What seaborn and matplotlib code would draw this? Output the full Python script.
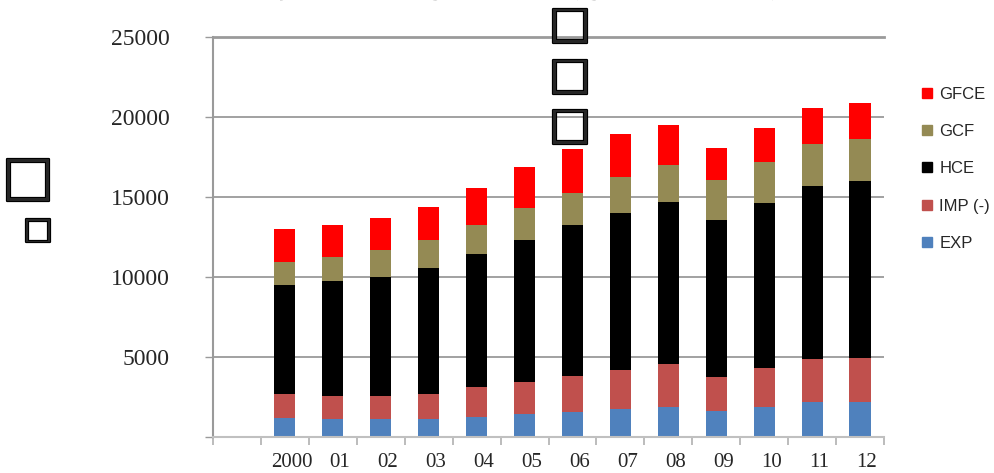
import numpy as np
import pandas as pd
import matplotlib
matplotlib.use('Agg')
from matplotlib import pyplot as plt
from matplotlib import transforms
from matplotlib import patheffects
from matplotlib.lines import Line2D
import seaborn as sns

# values (stack order: bottom -> top)
years = ['2000', '01', '02', '03', '04', '05', '06', '07', '08', '09', '10', '11', '12']
exp = [1170, 1080, 1080, 1080, 1230, 1420, 1540, 1710, 1860, 1610, 1860, 2170, 2170]
imp = [1500, 1440, 1440, 1590, 1850, 2000, 2250, 2460, 2680, 2120, 2430, 2690, 2750]
hce = [6810, 7210, 7460, 7850, 8340, 8870, 9440, 9790, 10130, 9810, 10320, 10810, 11060]
gcf = [1460, 1500, 1690, 1780, 1810, 2000, 1980, 2250, 2310, 2500, 2560, 2620, 2620]
gfce = [2040, 2000, 2000, 2060, 2310, 2570, 2770, 2730, 2520, 2000, 2120, 2250, 2260]

series = ['EXP', 'IMP (-)', 'HCE', 'GCF', 'GFCE']
colors = ['#4F81BD', '#C0504D', '#000000', '#948A54', '#FF0000']
ytick_vals = [0, 5000, 10000, 15000, 20000, 25000]
ytick_labels = ['', '5000', '10000', '15000', '20000', '25000']
title = 'مكونات الناتج المحلي الإجمالي حسب الإنفاق'
box = '\u25a1'

df = pd.DataFrame({'year': years, 'EXP': exp, 'IMP (-)': imp,
                   'HCE': hce, 'GCF': gcf, 'GFCE': gfce})
stack = df[series].cumsum(axis=1)

sns.set_style('white')
plt.rcParams['font.family'] = ['Liberation Serif', 'DejaVu Sans']

fig = plt.figure(figsize=(9.94, 4.73), dpi=100)
ax = fig.add_axes([213 / 994, 1 - 436.7 / 473, 671 / 994, 400 / 473])

# stacked bars: draw cumulative totals from the top series down
for name, color in reversed(list(zip(series, colors))):
    sns.barplot(x=df['year'], y=stack[name], order=years, color=color,
                saturation=1, width=0.44, linewidth=0, ax=ax)

ax.set_xlabel('')
ax.set_ylabel('')
ax.set_xlim(-1.5, 12.5)
ax.set_ylim(0, 25000)

ax.set_yticks(ytick_vals)
ax.set_yticklabels(ytick_labels, fontsize=17)
ax.yaxis.grid(True, color='#9a9a9a', lw=1.3)
ax.set_axisbelow(True)
ax.tick_params(axis='y', length=6, width=1, color='#9a9a9a', pad=25, direction='out', left=True)

ax.set_xticks(range(len(years)))
ax.set_xticklabels(years, fontsize=15)
ax.set_xticks(np.arange(-1.5, 13, 1), minor=True)
ax.tick_params(axis='x', which='major', length=0, pad=12)
ax.tick_params(axis='x', which='minor', length=6, width=1.2, color='#b0b0b0', direction='out', bottom=True)
shift = transforms.ScaledTranslation(0.07, 0, fig.dpi_scale_trans)
for lab in ax.get_xticklabels():
    lab.set_transform(lab.get_transform() + shift)

ax.spines['right'].set_visible(False)
ax.spines['top'].set_color('#9a9a9a')
ax.spines['top'].set_linewidth(2)
ax.spines['left'].set_color('#9a9a9a')
ax.spines['left'].set_linewidth(1.5)
ax.spines['bottom'].set_color('#c0c0c0')
ax.spines['bottom'].set_linewidth(1.5)

handles = [Line2D([], [], marker='s', ls='', color=c, markersize=7.5)
           for c in reversed(colors)]
fig.legend(handles, list(reversed(series)), loc='upper left',
           bbox_to_anchor=(920 / 994, 1 - 87 / 473), frameon=False,
           prop={'family': 'Liberation Sans', 'size': 12},
           labelspacing=1.33, handlelength=0.8, handletextpad=0.35,
           borderpad=0, borderaxespad=0)

# title (cut off at the top edge) and the placeholder boxes
fig.text(0.55, 1.027, title, ha='center', va='center', fontsize=18, family='DejaVu Sans')
thick = [patheffects.withStroke(linewidth=1.6, foreground='black')]
for yy in [25, 76, 126]:
    fig.text(570 / 994, 1 - yy / 473, box, ha='center', va='center', fontsize=32,
             family='DejaVu Sans', path_effects=thick)
fig.text(28 / 994, 1 - 179 / 473, box, ha='center', va='center', fontsize=39,
         family='DejaVu Sans', path_effects=thick)
fig.text(38 / 994, 1 - 230 / 473, box, ha='center', va='center', fontsize=22,
         family='DejaVu Sans', path_effects=thick)

fig.savefig('out.png', dpi=100)
